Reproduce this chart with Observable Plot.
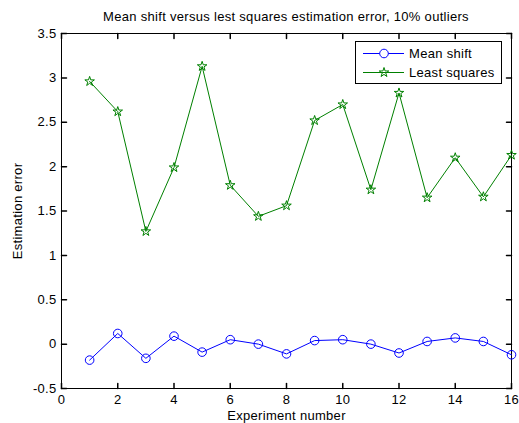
<!DOCTYPE html>
<html>
<head>
<meta charset="utf-8">
<script src="https://cdn.jsdelivr.net/npm/d3@7"></script>
<script src="https://cdn.jsdelivr.net/npm/@observablehq/plot@0.6"></script>
<style>
  html, body { margin: 0; padding: 0; background: #fff; }
  body { font-family: "Liberation Sans", Arial, sans-serif; }
  #wrap { width: 519px; height: 423px; position: relative; overflow: hidden; }
  #title { box-sizing: border-box; height: 26px; padding-top: 9px; margin-left: 61px; width: 450px;
           text-align: center; font-size: 13px; line-height: 15px; letter-spacing: 0.3px; color: #000; white-space: nowrap; }
  svg { display: block; }
</style>
</head>
<body>
<div id="wrap">
  <div id="title">Mean shift versus lest squares estimation error, 10% outliers</div>
  <div id="chart"></div>
</div>
<script>
// ---- data ----
const experiments = [1, 2, 3, 4, 5, 6, 7, 8, 9, 10, 11, 12, 13, 14, 15, 16];
const meanShift = [-0.18, 0.12, -0.16, 0.09, -0.09, 0.05, 0.00, -0.11, 0.04, 0.05, 0.00, -0.10, 0.03, 0.07, 0.03, -0.12];
const leastSquares = [2.96, 2.62, 1.27, 1.99, 3.13, 1.79, 1.44, 1.56, 2.52, 2.70, 1.74, 2.83, 1.65, 2.10, 1.66, 2.13];
const seriesNames = ["Mean shift", "Least squares"];
const xTicks = [0, 2, 4, 6, 8, 10, 12, 14, 16];
const yTicks = [-0.5, 0, 0.5, 1, 1.5, 2, 2.5, 3, 3.5];
const xLabel = "Experiment number";
const yLabel = "Estimation error";

// ---- styles ----
const BLUE = "#0000ff", GREEN = "#008000";
const FONT = "13px";
const FAMILY = '"Liberation Sans", Arial, sans-serif';

const msRows = experiments.map((e, i) => ({x: e, y: meanShift[i]}));
const lsRows = experiments.map((e, i) => ({x: e, y: leastSquares[i]}));

const tickShape = {draw(context, l) { context.moveTo(0, 0); context.lineTo(0, -l); }};
const TL = 5;

function legendMark(index, scales, values, dims) {
  const g = d3.create("svg:g");
  const w = 146, h = 42;
  const x0 = dims.width - dims.marginRight - 10 - w;
  const y0 = dims.marginTop + 8;
  g.append("rect").attr("x", x0 + 0.5).attr("y", y0 + 0.5).attr("width", w).attr("height", h)
    .attr("fill", "white").attr("stroke", "black").attr("stroke-width", 1);
  const colors = [BLUE, GREEN];
  seriesNames.forEach((name, i) => {
    const cy = Math.round(y0 + 11.7 + i * 19.6) + 0.5;
    g.append("line").attr("x1", x0 + 8).attr("x2", x0 + 49).attr("y1", cy).attr("y2", cy)
      .attr("stroke", colors[i]).attr("stroke-width", 1);
    if (i === 0) {
      g.append("circle").attr("cx", x0 + 29).attr("cy", cy).attr("r", 4.3)
        .attr("fill", "white").attr("stroke", BLUE).attr("stroke-width", 1);
    } else {
      g.append("path").attr("transform", `translate(${x0 + 29},${cy})`)
        .attr("d", d3.symbol(d3.symbolStar, 28)())
        .attr("fill", "none").attr("stroke", GREEN).attr("stroke-width", 1);
    }
    g.append("text").attr("x", x0 + 54).attr("y", cy).attr("dy", "0.35em")
      .attr("text-anchor", "start")
      .attr("font-size", FONT).attr("letter-spacing", "0.3px")
      .attr("font-family", FAMILY).attr("fill", "black").text(name);
  });
  return g.node();
}

const chart = Plot.plot({
  width: 519,
  height: 397,
  marginTop: 7,
  marginBottom: 35,
  marginLeft: 61,
  marginRight: 8,
  style: {fontFamily: FAMILY, fontSize: FONT, letterSpacing: "0.3px", color: "black", background: "white"},
  x: {domain: [0, 16]},
  y: {domain: [-0.5, 3.5]},
  marks: [
    Plot.frame({stroke: "black", strokeWidth: 1}),
    Plot.axisX({ticks: xTicks, tickSize: 0, tickPadding: 6, tickFormat: d => String(d), label: null}),
    Plot.axisY({ticks: yTicks, tickSize: 0, tickPadding: 5, tickFormat: d => String(d), label: null}),
    Plot.vector(xTicks, {x: d => d, frameAnchor: "bottom", length: TL, rotate: 0, anchor: "start", shape: tickShape, stroke: "black"}),
    Plot.vector(xTicks, {x: d => d, frameAnchor: "top", length: TL, rotate: 180, anchor: "start", shape: tickShape, stroke: "black"}),
    Plot.vector(yTicks, {y: d => d, frameAnchor: "left", length: TL, rotate: 90, anchor: "start", shape: tickShape, stroke: "black"}),
    Plot.vector(yTicks, {y: d => d, frameAnchor: "right", length: TL, rotate: -90, anchor: "start", shape: tickShape, stroke: "black"}),
    Plot.line(msRows, {x: "x", y: "y", stroke: BLUE, strokeWidth: 1}),
    Plot.dot(msRows, {x: "x", y: "y", r: 4.3, stroke: BLUE, fill: "none", strokeWidth: 1}),
    Plot.line(lsRows, {x: "x", y: "y", stroke: GREEN, strokeWidth: 1}),
    Plot.dot(lsRows, {x: "x", y: "y", r: 3, symbol: "star", stroke: GREEN, fill: "none", strokeWidth: 1}),
    Plot.text([xLabel], {text: d => d, frameAnchor: "bottom", lineAnchor: "middle", dy: 27, fill: "black"}),
    Plot.text([yLabel], {text: d => d, frameAnchor: "left", textAnchor: "middle", lineAnchor: "middle", dx: -44, rotate: -90, fill: "black"}),
    legendMark
  ]
});
document.getElementById("chart").appendChild(chart);
</script>
</body>
</html>
